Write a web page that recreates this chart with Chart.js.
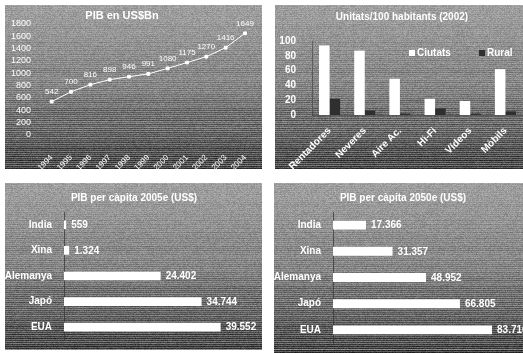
<!DOCTYPE html>
<html>
<head>
<meta charset="utf-8">
<script src="https://cdn.jsdelivr.net/npm/chart.js@4/dist/chart.umd.min.js"></script>
<style>
  html, body { margin: 0; padding: 0; background: #fff; width: 523px; height: 353px; overflow: hidden; }
  .panel { position: absolute; }
  canvas { display: block; }
</style>
</head>
<body>
<div class="panel" style="left:5px;top:5px"><canvas id="pib" width="257" height="164"></canvas></div>
<div class="panel" style="left:275px;top:5px"><canvas id="unitats" width="248" height="164"></canvas></div>
<div class="panel" style="left:5px;top:183px"><canvas id="capita2005" width="257" height="167"></canvas></div>
<div class="panel" style="left:274px;top:183px"><canvas id="capita2050" width="249" height="170"></canvas></div>

<script>
// ---- data ----
const years = ['1994', '1995', '1996', '1997', '1998', '1999', '2000', '2001', '2002', '2003', '2004'];
const pibBn = [542, 700, 816, 898, 946, 991, 1080, 1175, 1270, 1416, 1649];

const aparells = ['Rentadores', 'Neveres', 'Aire Ac.', 'Hi-Fi', 'Vídeos', 'Mòbils'];
const ciutats = [94, 87, 49, 22, 19, 62];
const rural = [22, 6, 2, 9, 2, 5];

const paisos = ['India', 'Xina', 'Alemanya', 'Japó', 'EUA'];
const pibCapita2005 = [559, 1324, 24402, 34744, 39552];
const pibCapita2050 = [17366, 31357, 48952, 66805, 83710];

// ---- helpers ----
const FONT = '"Liberation Sans", Arial, sans-serif';

function formatThousands(v) {
  return String(v).replace(/\B(?=(\d{3})+(?!\d))/g, '.');
}

function hash(n) {
  const s = Math.sin(n * 12.9898 + 78.233) * 43758.5453;
  return s - Math.floor(s);
}

// grey photocopy-like panel fill: light at the top, dark and streaky at the bottom
function paintPanel(ctx, w, h) {
  const g = ctx.createLinearGradient(0, 0, 0, h);
  g.addColorStop(0, '#a2a2a2');
  g.addColorStop(0.5, '#8c8c8c');
  g.addColorStop(0.78, '#666666');
  g.addColorStop(1, '#3c3c3c');
  ctx.fillStyle = g;
  ctx.fillRect(0, 0, w, h);
  for (let y = 0; y < h; y++) {
    const t = y / h;
    const k = hash(y);
    if (y % 2 === 0) {
      ctx.fillStyle = 'rgba(255,255,255,' + ((0.03 + 0.30 * t * t * t) * (0.4 + k)).toFixed(3) + ')';
    } else {
      ctx.fillStyle = 'rgba(0,0,0,' + ((0.04 + 0.22 * t) * (0.4 + k)).toFixed(3) + ')';
    }
    ctx.fillRect(0, y, w, 1);
  }
  const img = ctx.getImageData(0, 0, w, h);
  const d = img.data;
  for (let i = 0; i < d.length; i += 4) {
    const n = (hash(i * 0.25 + 0.5) - 0.5) * 34;
    d[i] = Math.max(0, Math.min(255, d[i] + n));
    d[i + 1] = Math.max(0, Math.min(255, d[i + 1] + n));
    d[i + 2] = Math.max(0, Math.min(255, d[i + 2] + n));
  }
  ctx.putImageData(img, 0, 0);
}

const panelBackground = {
  id: 'panelBackground',
  beforeDraw(chart) {
    const ctx = chart.ctx;
    ctx.save();
    paintPanel(ctx, chart.width, chart.height);
    ctx.restore();
  }
};

const panelTitle = {
  id: 'panelTitle',
  afterDraw(chart, args, opts) {
    if (!opts || !opts.text) return;
    const ctx = chart.ctx;
    ctx.save();
    ctx.font = 'bold ' + (opts.size || 10) + 'px ' + FONT;
    ctx.fillStyle = '#fff';
    ctx.textAlign = 'center';
    ctx.textBaseline = 'middle';
    ctx.fillText(opts.text, opts.x, opts.y);
    ctx.restore();
  }
};

const valueLabels = {
  id: 'valueLabels',
  afterDatasetsDraw(chart, args, opts) {
    if (!opts || !opts.display) return;
    const ctx = chart.ctx;
    ctx.save();
    ctx.font = (opts.bold ? 'bold ' : '') + (opts.size || 9) + 'px ' + FONT;
    ctx.fillStyle = '#fff';
    const meta = chart.getDatasetMeta(0);
    const values = chart.data.datasets[0].data;
    meta.data.forEach((el, i) => {
      const text = opts.separator ? formatThousands(values[i]) : String(values[i]);
      if (opts.mode === 'above') {
        ctx.textAlign = 'center';
        ctx.textBaseline = 'middle';
        ctx.fillText(text, el.x, el.y - 10);
      } else {
        ctx.textAlign = 'left';
        ctx.textBaseline = 'middle';
        ctx.fillText(text, el.x + 5, el.y + 0.5);
      }
    });
    ctx.restore();
  }
};

const innerLegend = {
  id: 'innerLegend',
  afterDraw(chart, args, opts) {
    if (!opts || !opts.items) return;
    const ctx = chart.ctx;
    ctx.save();
    ctx.font = 'bold 10px ' + FONT;
    ctx.textBaseline = 'middle';
    ctx.textAlign = 'left';
    chart.data.datasets.forEach((ds, i) => {
      const pos = opts.items[i];
      ctx.fillStyle = ds.backgroundColor;
      ctx.fillRect(pos.x, pos.y - 3, 6, 6);
      ctx.fillStyle = '#fff';
      ctx.fillText(ds.label, pos.x + 8, pos.y);
    });
    ctx.restore();
  }
};

Chart.register(panelBackground, panelTitle, valueLabels, innerLegend);
Chart.defaults.font.family = FONT;
Chart.defaults.color = '#fff';

const common = {
  responsive: false,
  animation: false,
  devicePixelRatio: 1,
  events: []
};

// ---- PIB en US$Bn (line) ----
new Chart(document.getElementById('pib'), {
  type: 'line',
  data: {
    labels: years,
    datasets: [{
      data: pibBn,
      borderColor: '#ffffff',
      borderWidth: 1,
      pointStyle: 'rect',
      pointRadius: 2,
      pointBackgroundColor: '#ffffff',
      pointBorderColor: '#ffffff',
      tension: 0
    }]
  },
  options: {
    ...common,
    layout: { padding: { top: 19, right: 3, left: 0, bottom: 0 } },
    plugins: {
      legend: { display: false },
      tooltip: { enabled: false },
      panelTitle: { text: 'PIB en US$Bn', x: 117, y: 11, size: 11 },
      valueLabels: { display: true, mode: 'above', size: 8, separator: false }
    },
    scales: {
      x: {
        offset: true,
        grid: { display: false },
        border: { display: false },
        ticks: { color: '#fff', font: { size: 8 }, minRotation: 45, maxRotation: 45, padding: 10, autoSkip: false },
        afterFit(s) { s.height = 34; }
      },
      y: {
        min: 0, max: 1800,
        grid: { display: false },
        border: { display: false },
        ticks: {
          stepSize: 200, autoSkip: false, color: '#fff', font: { size: 9 }, padding: 3,
          callback: v => String(v)
        },
        afterFit(s) { s.width = 37; }
      }
    }
  }
});

// ---- Unitats/100 habitants (2002) (grouped bars) ----
new Chart(document.getElementById('unitats'), {
  type: 'bar',
  data: {
    labels: aparells,
    datasets: [
      { label: 'Ciutats', data: ciutats, backgroundColor: '#ffffff' },
      { label: 'Rural', data: rural, backgroundColor: '#2f2f2f' }
    ]
  },
  options: {
    ...common,
    layout: { padding: { top: 36, right: 0, left: 0, bottom: 0 } },
    datasets: { bar: { categoryPercentage: 0.6, barPercentage: 1.0 } },
    plugins: {
      legend: { display: false },
      tooltip: { enabled: false },
      panelTitle: { text: 'Unitats/100 habitants (2002)', x: 127, y: 12, size: 10 },
      innerLegend: { items: [{ x: 134, y: 48 }, { x: 204, y: 48 }] }
    },
    scales: {
      x: {
        grid: { display: false },
        border: { display: true, color: 'rgba(60,60,60,0.6)' },
        ticks: { color: '#fff', font: { size: 10, weight: 'bold' }, minRotation: 45, maxRotation: 45, padding: 2, autoSkip: false },
        afterFit(s) { s.height = 54; }
      },
      y: {
        min: 0, max: 100,
        grid: { display: false },
        border: { display: true, color: 'rgba(60,60,60,0.6)' },
        ticks: { stepSize: 20, autoSkip: false, color: '#fff', font: { size: 10, weight: 'bold' }, padding: 8 },
        afterFit(s) { s.width = 37; }
      }
    }
  }
});

// ---- PIB per càpita (horizontal bars) ----
function capitaChart(id, title, values, max, titleX) {
  return new Chart(document.getElementById(id), {
    type: 'bar',
    data: {
      labels: paisos,
      datasets: [{ data: values, backgroundColor: '#ffffff' }]
    },
    options: {
      ...common,
      indexAxis: 'y',
      layout: { padding: { top: 29, right: 0, left: 0, bottom: 1 } },
      datasets: { bar: { categoryPercentage: 1.0, barPercentage: 0.34 } },
      plugins: {
        legend: { display: false },
        tooltip: { enabled: false },
        panelTitle: { text: title, x: titleX, y: 15, size: 10 },
        valueLabels: { display: true, mode: 'right', size: 10, bold: true, separator: true }
      },
      scales: {
        x: { display: false, min: 0, max: max },
        y: {
          grid: { display: false },
          border: { display: true, color: 'rgba(50,50,50,0.7)' },
          ticks: { color: '#fff', font: { size: 10, weight: 'bold' }, padding: 4, autoSkip: false },
          afterFit(s) { s.width = 59; }
        }
      }
    }
  });
}

capitaChart('capita2005', 'PIB per càpita 2005e (US$)', pibCapita2005, 50000, 129);
capitaChart('capita2050', 'PIB per càpita 2050e (US$)', pibCapita2050, 100000, 129);
</script>
</body>
</html>
